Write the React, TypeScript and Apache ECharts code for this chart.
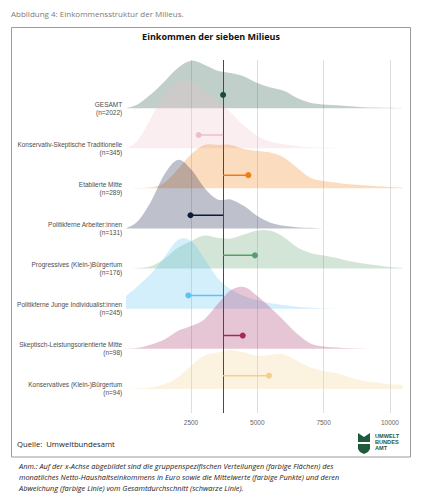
import React, { useEffect, useRef } from 'react';
import * as echarts from 'echarts';

// ---- data -------------------------------------------------------------
const X_GRID = [50, 500, 1000, 1500, 2000, 2500, 3000, 3500, 4000, 4500, 5000, 5500, 6000, 6500, 7000, 7500, 8000, 8500, 9000, 9500, 10000, 10480];

const NAMES = [
  'GESAMT',
  'Konservativ-Skeptische Traditionelle',
  'Etablierte Mitte',
  'Politikferne Arbeiter:innen',
  'Progressives (Klein-)Bürgertum',
  'Politikferne Junge Individualist:innen',
  'Skeptisch-Leistungsorientierte Mitte',
  'Konservatives (Klein-)Bürgertum',
];
const N_SIZES = [2022, 345, 289, 131, 176, 245, 98, 94];
const MEAN_ALL = 3710;
const GROUP_MEANS = [3710, 2790, 4660, 2480, 4910, 2400, 4450, 5440];

// relative density heights
const D_GESAMT = [0, 12, 42, 80, 120, 142, 130, 112, 105, 95, 75, 62, 52, 30, 16, 11, 9, 6, 3, 2, 1, 0];
const D_KONS_SKEPT = [0, 24, 92, 162, 198, 202, 172, 142, 107, 67, 37, 20, 12, 7, 3, 2, 1, 0, 0, 0, 0, 0];
const D_ETABLIERT = [0, 1, 3, 17, 57, 102, 130, 130, 130, 118, 112, 107, 92, 62, 32, 22, 17, 12, 9, 6, 4, 2];
const D_ARBEITER = [0, 22, 82, 162, 205, 177, 122, 87, 87, 67, 37, 17, 8, 4, 2, 0, 0, 0, 0, 0, 0, 0];
const D_PROGRESSIV = [0, 2, 8, 29, 62, 82, 99, 92, 90, 102, 114, 113, 94, 64, 47, 39, 32, 22, 15, 10, 5, 2];
const D_JUNGE = [38, 68, 105, 155, 205, 203, 150, 92, 58, 38, 25, 16, 10, 6, 3, 1, 0, 0, 0, 0, 0, 0];
const D_SKEPT_LEIST = [0, 3, 13, 28, 53, 68, 88, 133, 175, 185, 158, 123, 85, 45, 16, 7, 4, 2, 1, 0, 0, 0];
const D_KONS_BUERG = [0, 1, 4, 14, 34, 69, 99, 109, 116, 109, 99, 102, 104, 84, 64, 54, 47, 34, 24, 19, 14, 12];

const DENSITIES = [D_GESAMT, D_KONS_SKEPT, D_ETABLIERT, D_ARBEITER, D_PROGRESSIV, D_JUNGE, D_SKEPT_LEIST, D_KONS_BUERG];

const X_TICKS = [2500, 5000, 7500, 10000];
const LOGO_LINES = ['UMWELT', 'BUNDES', 'AMT'];

// ---- styles -----------------------------------------------------------
const COLORS = ['#1b4d3e', '#efbfc8', '#f07e12', '#0e1a3d', '#5b9e6c', '#5cc3f0', '#a3285f', '#f3cf8e'];
const FILL_ALPHA = 0.27;
const DENSITY_SCALE = 1 / 120;
const DOT_OFFSET = 0.33;
const TENSION = 1;

function rgba(hex: string, a: number) {
  const n = parseInt(hex.slice(1), 16);
  return `rgba(${(n >> 16) & 255},${(n >> 8) & 255},${n & 255},${a})`;
}

const LABEL_FONT = '"Liberation Sans", Arial, sans-serif';
const TEXT_FONT = '"Open Sans", "Noto Sans", sans-serif';

export default function App() {
  const ref = useRef<HTMLDivElement>(null);

  useEffect(() => {
    if (!ref.current) return;
    const chart = echarts.init(ref.current, null, { renderer: 'svg' });
    const rows = NAMES.length;
    const baseOf = (i: number) => rows - 1 - i;

    const series: any[] = [];

    // ridges
    series.push({
      type: 'custom',
      coordinateSystem: 'cartesian2d',
      silent: true,
      z: 2,
      data: DENSITIES.map((_, i) => [GROUP_MEANS[i], baseOf(i)]),
      renderItem: (params: any, api: any) => {
        const i = params.dataIndex;
        const d = DENSITIES[i];
        const base = baseOf(i);
        const pts = X_GRID.map((x, k) => api.coord([x, base + d[k] * DENSITY_SCALE]));
        const b0 = api.coord([X_GRID[0], base]);
        const b1 = api.coord([X_GRID[X_GRID.length - 1], base]);
        const yMax = b0[1];
        const n = pts.length;
        const f = (v: number) => v.toFixed(2);
        let p = `M${f(b0[0])},${f(b0[1])} L${f(pts[0][0])},${f(pts[0][1])}`;
        for (let k = 0; k < n - 1; k++) {
          const p0 = pts[Math.max(k - 1, 0)];
          const p1 = pts[k];
          const p2 = pts[k + 1];
          const p3 = pts[Math.min(k + 2, n - 1)];
          const c1x = p1[0] + ((p2[0] - p0[0]) / 6) * TENSION;
          const c1y = Math.min(yMax, p1[1] + ((p2[1] - p0[1]) / 6) * TENSION);
          const c2x = p2[0] - ((p3[0] - p1[0]) / 6) * TENSION;
          const c2y = Math.min(yMax, p2[1] - ((p3[1] - p1[1]) / 6) * TENSION);
          p += ` C${f(c1x)},${f(c1y)} ${f(c2x)},${f(c2y)} ${f(p2[0])},${f(p2[1])}`;
        }
        p += ` L${f(b1[0])},${f(b1[1])} Z`;
        return {
          type: 'path',
          shape: { pathData: p },
          style: { fill: rgba(COLORS[i], FILL_ALPHA), stroke: 'none' },
        };
      },
    });

    // overall mean line
    series.push({
      type: 'line',
      data: [],
      silent: true,
      z: 3,
      markLine: {
        silent: true,
        symbol: 'none',
        label: { show: false },
        lineStyle: { color: '#4a4a4a', width: 1, type: 'solid' },
        data: [{ xAxis: MEAN_ALL }],
        z: 3,
      },
    });

    // deviation segments
    GROUP_MEANS.forEach((m, i) => {
      const y = baseOf(i) + DOT_OFFSET;
      series.push({
        type: 'line',
        data: [[MEAN_ALL, y], [m, y]],
        symbol: 'none',
        lineStyle: { color: COLORS[i], width: 1.5 },
        silent: true,
        z: 4,
      });
    });

    // group means
    series.push({
      type: 'scatter',
      symbolSize: 6,
      data: GROUP_MEANS.map((m, i) => ({ value: [m, baseOf(i) + DOT_OFFSET], itemStyle: { color: COLORS[i], opacity: 1 } })),
      silent: true,
      z: 5,
    });

    const logoGreen = '#1f5a3b';
    const logoTexts = LOGO_LINES.map((t, k) => ({
      type: 'text', x: 375, y: 433 + k * 5.8, silent: true,
      style: {
        text: t, fill: logoGreen, fontSize: 5.6, fontWeight: 'bold',
        fontFamily: LABEL_FONT, verticalAlign: 'top', align: 'left',
      },
    }));

    chart.setOption({
      animation: false,
      backgroundColor: '#ffffff',
      grid: { left: 124.7, right: 21.8, top: 60, bottom: 87, containLabel: false, outerBoundsMode: 'none' },
      xAxis: {
        type: 'value',
        min: 0,
        max: 10500,
        interval: 2500,
        axisLine: { show: false },
        axisTick: { show: false },
        splitLine: { show: true, showMinLine: false, showMaxLine: false, lineStyle: { color: '#dedede', width: 1 } },
        axisLabel: {
          showMinLabel: false,
          showMaxLabel: false,
          color: '#666666',
          fontSize: 6.5,
          fontFamily: LABEL_FONT,
          margin: 6,
          formatter: (v: number) => (X_TICKS.includes(v) ? String(v) : ''),
        },
      },
      yAxis: {
        type: 'value',
        min: -0.6,
        max: 8.2,
        axisLine: { show: false },
        axisTick: { show: false },
        splitLine: { show: false },
        axisLabel: {
          customValues: NAMES.map((_, i) => baseOf(i)),
          formatter: (v: number) => {
            const i = rows - 1 - Math.round(v);
            if (i < 0 || i >= rows) return '';
            return `${NAMES[i]}\n(n=${N_SIZES[i]})`;
          },
          color: '#4d4d4d',
          fontSize: 6.5,
          lineHeight: 8,
          fontFamily: LABEL_FONT,
          align: 'right',
          margin: 2.5,
        },
      },
      series,
      graphic: {
        elements: [
          {
            type: 'text', x: 11, y: 13, silent: true,
            style: { text: 'Abbildung 4: Einkommensstruktur der Milieus.', fill: '#7a7a7a', fontSize: 8, fontFamily: TEXT_FONT, verticalAlign: 'middle', align: 'left' },
          },
          {
            type: 'rect', silent: true, z: -1,
            shape: { x: 11.5, y: 27.5, width: 399, height: 429.5 },
            style: { fill: 'none', stroke: '#9a9a9a', lineWidth: 1 },
          },
          {
            type: 'text', x: 211, y: 36, silent: true,
            style: { text: 'Einkommen der sieben Milieus', fill: '#111111', fontSize: 9, fontWeight: 'bold', fontFamily: TEXT_FONT, verticalAlign: 'middle', align: 'center' },
          },
          {
            type: 'text', x: 17, y: 444, silent: true,
            style: { text: 'Quelle:  Umweltbundesamt', fill: '#222222', fontSize: 7.7, fontFamily: TEXT_FONT, verticalAlign: 'middle', align: 'left' },
          },
          {
            type: 'polygon', silent: true,
            shape: { points: [[358, 433], [364, 437], [370, 433], [370, 442], [358, 442]] },
            style: { fill: logoGreen },
          },
          {
            type: 'polygon', silent: true,
            shape: { points: [[358, 444], [370, 444], [370, 449], [368, 452], [364, 454], [360, 452], [358, 449]] },
            style: { fill: logoGreen },
          },
          ...logoTexts,
          {
            type: 'text', x: 19, y: 466, silent: true,
            style: { text: 'Anm.: Auf der x-Achse abgebildet sind die gruppenspezifischen Verteilungen (farbige Flächen) des', fill: '#222222', fontSize: 7.4, fontStyle: 'italic', fontFamily: TEXT_FONT, verticalAlign: 'middle', align: 'left' },
          },
          {
            type: 'text', x: 19, y: 477, silent: true,
            style: { text: 'monatliches Netto-Haushaltseinkommens in Euro sowie die Mittelwerte (farbige Punkte) und deren', fill: '#222222', fontSize: 7.4, fontStyle: 'italic', fontFamily: TEXT_FONT, verticalAlign: 'middle', align: 'left' },
          },
          {
            type: 'text', x: 19, y: 487.5, silent: true,
            style: { text: 'Abweichung (farbige Linie) vom Gesamtdurchschnitt (schwarze Linie).', fill: '#222222', fontSize: 7.4, fontStyle: 'italic', fontFamily: TEXT_FONT, verticalAlign: 'middle', align: 'left' },
          },
        ],
      },
    });

    return () => chart.dispose();
  }, []);

  return (
    <div
      ref={ref}
      style={{ position: 'absolute', left: 0, top: 0, width: 425, height: 500, background: '#fff' }}
    />
  );
}
